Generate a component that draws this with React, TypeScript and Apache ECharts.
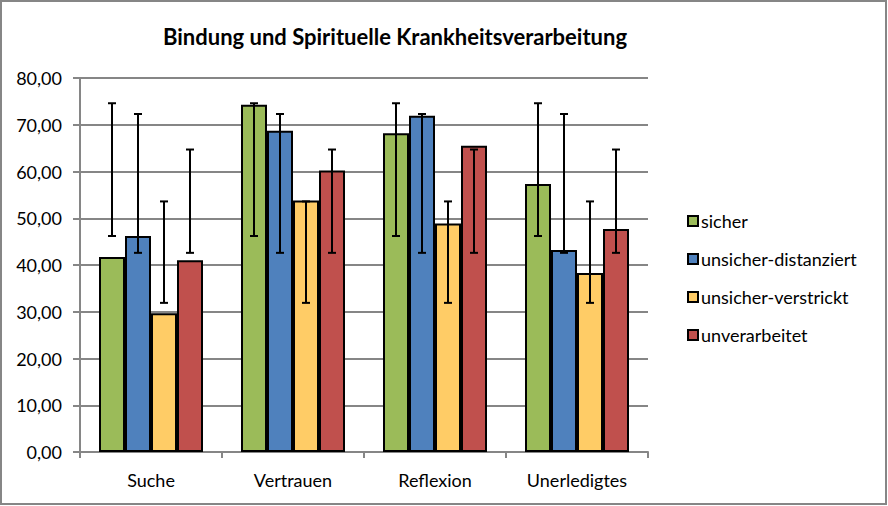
import React, { useEffect, useRef } from "react";
import * as echarts from "echarts";

const categories = ["Suche", "Vertrauen", "Reflexion", "Unerledigtes"];
const seriesNames = ["sicher", "unsicher-distanziert", "unsicher-verstrickt", "unverarbeitet"];
const colors = ["#9BBB59", "#4F81BD", "#FFCC66", "#C0504D"];

const sicher = [41.7, 74.3, 68.2, 57.3];
const distanziert = [46.2, 68.7, 71.9, 43.2];
const verstrickt = [29.7, 53.8, 48.9, 38.3];
const unverarbeitet = [41.0, 60.2, 65.5, 47.7];

const sicherErrLow = [46.2, 46.2, 46.2, 46.2];
const sicherErrHigh = [74.6, 74.6, 74.6, 74.6];
const distanziertErrLow = [42.6, 42.6, 42.6, 42.6];
const distanziertErrHigh = [72.3, 72.3, 72.3, 72.3];
const verstricktErrLow = [31.9, 31.9, 31.9, 31.9];
const verstricktErrHigh = [53.6, 53.6, 53.6, 53.6];
const unverarbeitetErrLow = [42.6, 42.6, 42.6, 42.6];
const unverarbeitetErrHigh = [64.7, 64.7, 64.7, 64.7];

const yTicks = [0, 10, 20, 30, 40, 50, 60, 70, 80];

const FONT = "Lato, 'Noto Sans', sans-serif";
const BAR_W = 26;

export default function App() {
  const ref = useRef<HTMLDivElement>(null);
  useEffect(() => {
    if (!ref.current) return;
    const chart = echarts.init(ref.current, null, { renderer: "svg" });
    const values = [sicher, distanziert, verstrickt, unverarbeitet];
    const lows = [sicherErrLow, distanziertErrLow, verstricktErrLow, unverarbeitetErrLow];
    const highs = [sicherErrHigh, distanziertErrHigh, verstricktErrHigh, unverarbeitetErrHigh];

    const barSeries = seriesNames.map((name, i) => ({
      name,
      type: "bar",
      data: values[i],
      barWidth: BAR_W,
      barGap: "0%",
      itemStyle: { color: colors[i], borderColor: "#000", borderWidth: 2 },
      z: 2,
    }));

    const errSeries = seriesNames.map((name, i) => ({
      name: name + "-err",
      type: "custom",
      z: 5,
      data: categories.map((_, c) => [c, lows[i][c], highs[i][c]]),
      renderItem: (params: any, api: any) => {
        const c = api.value(0);
        const lo = api.coord([c, api.value(1)]);
        const hi = api.coord([c, api.value(2)]);
        const x = lo[0] + (i - 1.5) * BAR_W;
        const cap = 4;
        const style = { stroke: "#000", lineWidth: 2 };
        return {
          type: "group",
          children: [
            { type: "line", shape: { x1: x, y1: lo[1], x2: x, y2: hi[1] }, style },
            { type: "line", shape: { x1: x - cap, y1: lo[1], x2: x + cap, y2: lo[1] }, style },
            { type: "line", shape: { x1: x - cap, y1: hi[1], x2: x + cap, y2: hi[1] }, style },
          ],
        };
      },
    }));

    chart.setOption({
      animation: false,
      backgroundColor: "#fff",
      title: {
        text: "Bindung und Spirituelle Krankheitsverarbeitung",
        left: 390,
        textAlign: "center",
        top: 20,
        textStyle: { fontFamily: FONT, fontSize: 22, fontWeight: "bold", color: "#000" },
      },
      legend: {
        orient: "vertical",
        left: 682,
        top: 207,
        itemWidth: 10,
        itemHeight: 10,
        itemGap: 20,
        data: seriesNames.map((n, i) => ({
          name: n,
          icon: "rect",
          itemStyle: { color: colors[i], borderColor: "#000", borderWidth: 2 },
        })),
        textStyle: { fontFamily: FONT, fontSize: 18, color: "#000", padding: [0, 0, 0, -2] },
      },
      grid: { left: 80, right: 240, top: 78, bottom: 54 },
      xAxis: {
        type: "category",
        data: categories,
        axisLine: { lineStyle: { color: "#868686", width: 2 } },
        axisTick: { show: true, length: 6, lineStyle: { color: "#868686", width: 2 } },
        axisLabel: { fontFamily: FONT, fontSize: 18, color: "#000", margin: 19 },
        splitLine: { show: false },
      },
      yAxis: {
        type: "value",
        min: yTicks[0],
        max: yTicks[yTicks.length - 1],
        interval: 10,
        axisLine: { show: true, lineStyle: { color: "#868686", width: 2 } },
        axisTick: { show: true, length: 7, lineStyle: { color: "#868686", width: 2 } },
        axisLabel: {
          fontFamily: FONT,
          fontSize: 18,
          color: "#000",
          margin: 18,
          formatter: (v: number) => v.toFixed(2).replace(".", ","),
        },
        splitLine: { lineStyle: { color: "#868686", width: 2 } },
      },
      graphic: [
        {
          type: "rect",
          shape: { x: 1, y: 1, width: 885, height: 503 },
          style: { fill: "none", stroke: "#868686", lineWidth: 2 },
          z: 100,
        },
      ],
      series: [...barSeries, ...errSeries],
    });
    return () => chart.dispose();
  }, []);
  return <div ref={ref} style={{ width: 888, height: 506, position: "absolute", left: 0, top: 0 }} />;
}
